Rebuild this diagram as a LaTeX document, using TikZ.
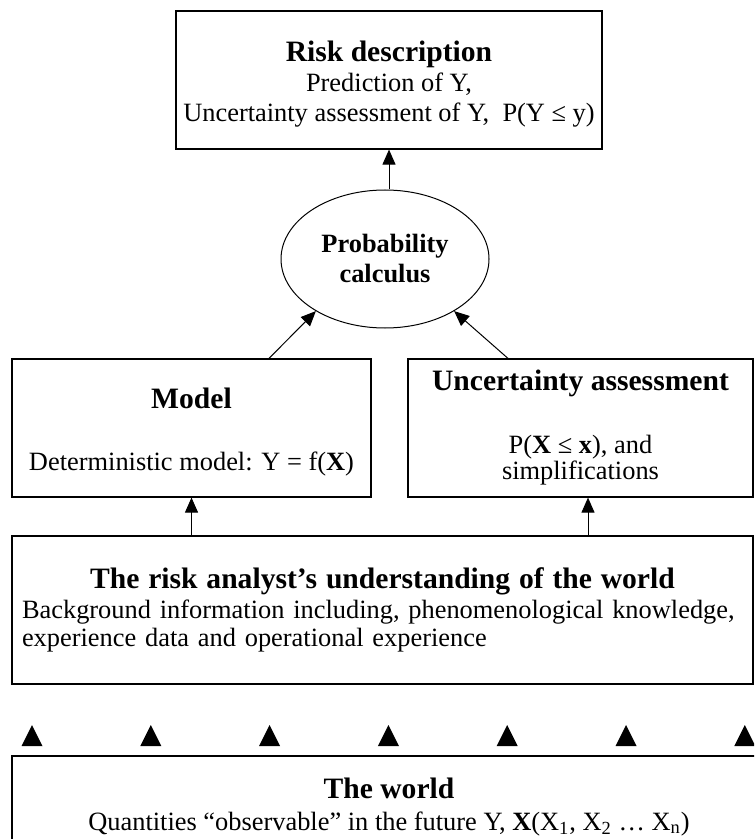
\documentclass[tikz,border=0pt]{standalone}
\usepackage{fontspec}
\setmainfont{Liberation Serif}
\usetikzlibrary{shapes.geometric, arrows.meta, positioning, calc}

\newcommand{\bodysize}{\fontsize{13.2}{15}\selectfont}
\newcommand{\headsize}{\fontsize{14.8}{17}\selectfont\bfseries}
\newcommand{\topstrut}{\rule{0pt}{14pt}}

\tikzset{
  box/.style={draw, line width=0.6pt, inner sep=0pt, align=center, font=\bodysize},
  arr/.style={-{Triangle[width=6.5pt, length=7.5pt]}, line width=0.5pt},
}

\begin{document}
\begin{tikzpicture}[x=0.5pt, y=-0.5pt]
  \useasboundingbox (0,0) rectangle (754,839);
  \clip (0,0) rectangle (754,839);

  % Risk description
  \node[box, minimum width=213pt, minimum height=69pt] (risk) at (389,80) {\topstrut{\headsize Risk description}\\ Prediction of Y,\\ Uncertainty assessment of Y,\ \ P(Y ≤ y)};

  % Probability calculus
  \node[draw, ellipse, line width=0.5pt, inner sep=0pt, minimum width=104pt, minimum height=69pt, align=center, font=\bodysize\bfseries] (prob) at (385,259) {Probability\\ calculus};
  \draw[arr] (prob.north -| risk.south) -- (risk.south);

  % Model and uncertainty assessment
  \node[box, minimum width=179.5pt, minimum height=69pt] (model) at (191.5,428) {\topstrut{\headsize Model}\\[16pt] Deterministic model: Y = f(\textbf{X})};
  \node[box, minimum width=172.5pt, minimum height=69pt] (unc) at (580.5,428) {{\headsize Uncertainty assessment}\\[16.5pt] P(\textbf{X} ≤ \textbf{x}), and\\[-2pt] simplifications};
  \draw[arr] ([xshift=38.75pt]model.north) -- (prob.217);
  \draw[arr] ([xshift=-36.25pt]unc.north) -- (prob.323);

  % Understanding of the world
  \node[box, minimum width=370.5pt, minimum height=74pt, text width=360.5pt, align=left] (under) at (382.5,610) {\makebox[\linewidth]{\headsize The risk analyst’s understanding of the world}\\ Background information including, phenomenological knowledge,\\[-1pt] experience data and operational experience};
  \draw[arr] (model.south |- under.north) -- (model.south);
  \draw[arr] ([xshift=3.75pt]unc.south |- under.north) -- ([xshift=3.75pt]unc.south);

  % Observations
  \foreach \i in {0,...,6}
    \fill ({32+118.8*\i-10.5},746) -- ({32+118.8*\i},725) -- ({32+118.8*\i+10.5},746) -- cycle;

  % The world
  \node[box, minimum width=377pt, minimum height=47pt] (world) at (389,803) {\topstrut{\headsize The world}\\[1pt] Quantities “observable” in the future Y, \textbf{X}(X\textsubscript{1}, X\textsubscript{2} … X\textsubscript{n})};
\end{tikzpicture}
\end{document}
